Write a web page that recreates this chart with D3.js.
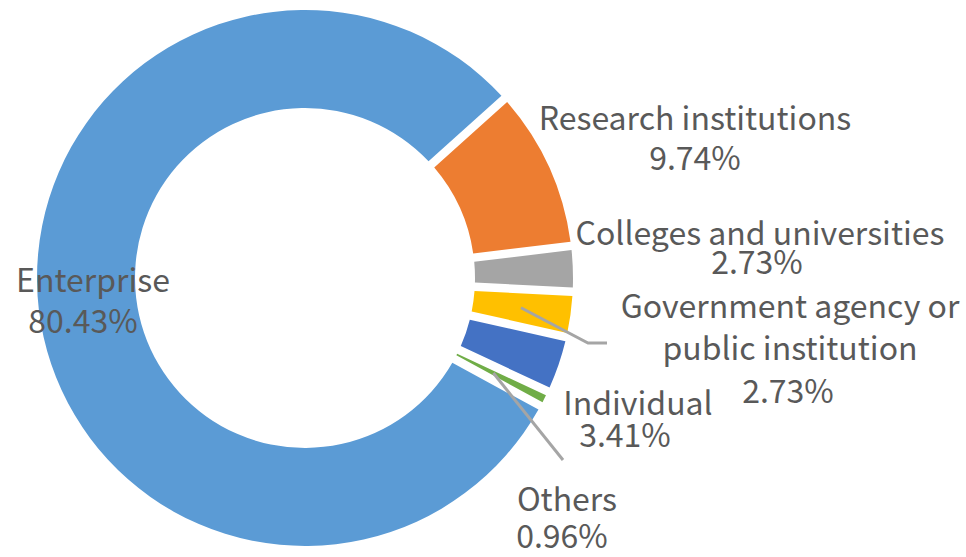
<!DOCTYPE html>
<html>
<head>
<meta charset="utf-8">
<script src="https://cdn.jsdelivr.net/npm/d3@7/dist/d3.min.js"></script>
<style>
  html, body { margin: 0; padding: 0; background: #ffffff; }
  svg { display: block; }
  text { font-family: "Noto Sans CJK SC", "Noto Sans", sans-serif; fill: #595959; }
</style>
</head>
<body>
<svg id="chart" width="966" height="557"></svg>
<script>
// ---- data ----
const categories = ["Enterprise", "Research institutions", "Colleges and universities",
  "Government agency or public institution", "Individual", "Others"];
const shares = [80.43, 9.74, 2.73, 2.73, 3.41, 0.96];
const colors = ["#5B9BD5", "#ED7D31", "#A5A5A5", "#FFC000", "#4472C4", "#70AD47"];

// ---- layout ----
const W = 966, H = 557;
const cx = 305, cy = 278;
const outerR = 268, innerR = 170;
const startDeg = 118.5;
const fontSize = 32;
// label layout: lines of the name, anchor x, baseline of first line, line step, percent baseline
const labelLayout = [
  { lines: ["Enterprise"], x: 93, y: 292, px: 83, py: 333 },
  { lines: ["Research institutions"], x: 695, y: 130, px: 695, py: 170 },
  { lines: ["Colleges and universities"], x: 760, y: 245, px: 757, py: 274 },
  { lines: ["Government agency or", "public institution"], x: 790, y: 318, step: 42, px: 788, py: 403 },
  { lines: ["Individual"], x: 638, y: 415, px: 625, py: 447 },
  { lines: ["Others"], x: 567, y: 511, px: 562, py: 548 }
];
// leader lines: index -> radius of start and path points (end in page coords)
const leaders = [
  { i: 3, r: 218, pts: [[588, 343], [607, 343]] },
  { i: 5, r: 211, pts: [[563, 460]] }
];

const svg = d3.select("#chart");
const g = svg.append("g").attr("transform", `translate(${cx},${cy})`);

const data = categories.map((c, i) => ({ name: c, value: shares[i], color: colors[i] }));
const start = startDeg * Math.PI / 180;
const pie = d3.pie().value(d => d.value).sort(null)
  .startAngle(start).endAngle(start + 2 * Math.PI);
const arcs = pie(data);

const arc = d3.arc().innerRadius(innerR).outerRadius(outerR)
  .padRadius(100).padAngle(0.085);

g.selectAll("path.slice").data(arcs).join("path")
  .attr("class", "slice")
  .attr("d", arc)
  .attr("fill", d => d.data.color);

// leader lines
leaders.forEach(l => {
  const a = arcs[l.i];
  const mid = (a.startAngle + a.endAngle) / 2;
  const p0 = [cx + l.r * Math.sin(mid), cy - l.r * Math.cos(mid)];
  svg.append("polyline")
    .attr("points", [p0].concat(l.pts).map(p => p.join(",")).join(" "))
    .attr("fill", "none")
    .attr("stroke", "#A5A5A5")
    .attr("stroke-width", 3);
});

// labels
const fmt = d3.format(".2f");
labelLayout.forEach((L, i) => {
  L.lines.forEach((ln, k) => {
    svg.append("text")
      .attr("x", L.x).attr("y", L.y + k * (L.step || 0))
      .attr("text-anchor", "middle")
      .attr("font-size", fontSize)
      .text(ln);
  });
  svg.append("text")
    .attr("x", L.px).attr("y", L.py)
    .attr("text-anchor", "middle")
    .attr("font-size", fontSize)
    .text(fmt(shares[i]) + "%");
});
</script>
</body>
</html>
